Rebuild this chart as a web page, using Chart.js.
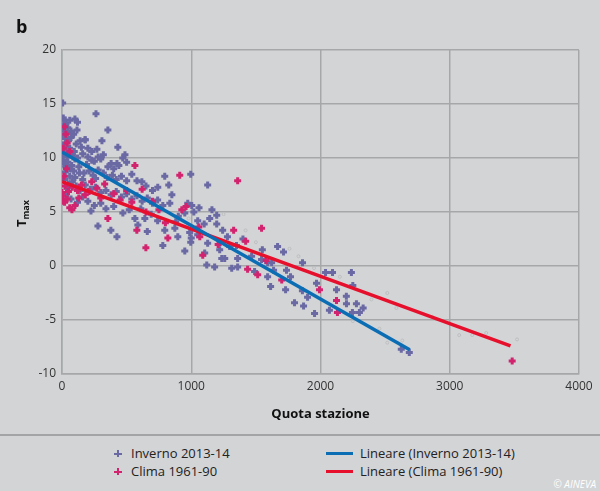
<!DOCTYPE html>
<html>
<head>
  <title>Tmax vs quota stazione</title>
  <script src="https://cdn.jsdelivr.net/npm/chart.js"></script>
  <style>
    body { margin: 0; background: #d3d4d6; font-family: "Open Sans", sans-serif; }
    #wrap { position: relative; width: 600px; height: 491px; background: #d3d4d6; overflow: hidden; }
    #chartBox { position: absolute; left: 0; top: 0; width: 600px; height: 434px; }
    #legend { position: absolute; left: 0; top: 434px; width: 600px; height: 57px; border-top: 2px solid #a3a4a6; }
    .item { position: absolute; font-size: 13px; color: #222; line-height: 16px; white-space: nowrap; }
    .plus { position: absolute; width: 7px; height: 7px; }
    .plus:before, .plus:after { content: ""; position: absolute; background: currentColor; }
    .plus:before { left: 3px; top: 0; width: 2px; height: 7px; }
    .plus:after { left: 0; top: 3px; width: 8px; height: 2px; }
    .bar { position: absolute; width: 27px; height: 3px; }
    #copy { position: absolute; right: 4px; top: 477px; font-size: 10px; font-style: italic; color: #fff; }
  </style>
</head>
<body>
<div id="wrap">
  <div id="chartBox"><canvas id="chartCanvas"></canvas></div>
  <div id="legend"></div>
  <div id="copy">© AINEVA</div>
</div>

<script>
  // quota (m), Tmax (°C)
  const inverno = [
    [5,15.1],[10,13.7],[20,13.5],[30,13.2],[5,12.9],[15,12.5],[40,12.3],[60,13.5],[100,13.6],[120,13.3],
    [8,12.0],[25,11.8],[50,11.6],[70,11.9],[90,12.2],[5,11.2],[30,11.0],[60,10.9],[110,11.3],[150,11.0],
    [180,11.7],[200,10.9],[230,10.6],[270,10.8],[280,10.1],[10,10.4],[40,10.1],[80,10.3],[120,10.0],[160,10.4],
    [200,10.1],[250,9.7],[300,9.9],[320,10.3],[355,9.2],[380,9.5],[400,9.0],[425,9.5],[440,9.3],[470,10.0],
    [487,10.3],[500,9.6],[355,12.6],[309,11.6],[432,11.0],[263,14.1],[178,11.7],[116,12.6],[15,9.5],[30,9.2],
    [60,9.0],[90,8.8],[130,9.2],[170,8.6],[210,8.8],[240,8.4],[280,8.9],[320,8.6],[350,8.2],[390,8.4],
    [420,8.0],[460,8.3],[500,7.9],[540,8.5],[580,7.9],[618,7.8],[650,7.4],[700,7.0],[741,7.3],[795,8.3],
    [826,7.5],[996,8.5],[20,8.0],[50,7.6],[80,7.8],[110,7.4],[140,7.0],[180,7.5],[220,7.1],[260,7.3],
    [300,6.8],[340,7.0],[380,6.6],[420,6.9],[460,6.4],[500,6.7],[540,6.2],[580,6.5],[620,6.0],[660,6.3],
    [700,5.8],[740,6.1],[780,5.6],[834,5.8],[973,5.8],[1004,5.6],[30,6.5],[70,6.2],[120,5.9],[160,6.4],
    [200,6.0],[250,5.6],[224,5.1],[300,5.8],[340,5.3],[400,5.5],[471,4.9],[520,5.2],[564,4.4],[587,3.8],
    [641,4.4],[690,4.8],[740,4.2],[795,3.3],[873,3.5],[896,2.7],[988,3.1],[278,3.7],[378,3.3],[425,2.7],
    [780,1.9],[950,1.4],[996,2.2],[900,4.6],[950,4.9],[1050,4.2],[1100,3.9],[1127,7.5],[1143,4.4],[1197,4.7],
    [1197,3.9],[1243,3.3],[1127,2.1],[1220,1.5],[1297,1.8],[1104,1.2],[1236,0.7],[1259,0.7],[1359,0.7],[1467,0.9],
    [1544,0.6],[1622,0.3],[1120,0.1],[1181,-0.1],[1313,-0.2],[1359,-0.1],[1591,-1.0],[1668,1.8],[1714,1.3],[1861,0.3],
    [2039,-0.6],[2093,-0.6],[2239,-0.6],[1969,-1.6],[2124,-2.2],[2201,-3.5],[2278,-3.5],[2301,-4.3],[2247,-4.3],[2069,-4.1],
    [1954,-4.4],[1869,-3.7],[1799,-3.4],[1900,-2.9],[1730,-2.2],[1614,-1.9],[1768,-1.0],[1737,-0.4],[1637,-0.4],[1591,0.3],
    [1400,2.5],[1350,1.9],[1050,2.9],[1000,2.6],[1280,2.7],[1550,1.5],[1490,-0.5],[2625,-7.7],[2687,-8.0],[2200,-2.8],
    [2330,-3.9],[2250,-1.8],[1860,-2.3],[1020,5.0],[1060,5.4],[1160,5.2],[850,6.6],[880,4.1],[660,3.2],[610,5.3],
    [15,13.0],[45,12.8],[70,12.5],[25,10.7],[55,10.4],[95,10.6],[140,11.6],[10,9.8],[45,9.6],[75,9.3],
    [100,9.9],[135,8.6],[25,8.7],[60,8.3],[100,8.2],[40,7.2],[160,8.0],[190,9.4],[230,9.8],[260,8.1]
  ];
  const clima = [
    [5,6.5],[10,6.0],[20,5.9],[40,6.2],[50,6.9],[77,5.2],[100,5.6],[30,12.2],[20,12.9],[40,11.4],
    [60,10.6],[80,7.3],[120,7.0],[150,7.5],[180,6.6],[230,7.8],[270,7.2],[300,6.3],[355,4.4],[400,6.7],
    [450,6.1],[500,7.0],[540,5.9],[564,9.3],[579,3.3],[620,7.1],[649,1.7],[700,6.0],[750,5.2],[819,2.6],
    [911,8.4],[927,5.2],[960,5.5],[1058,3.6],[1066,2.7],[1089,1.0],[1208,2.0],[1328,3.3],[1359,7.9],[1421,2.3],
    [1436,-0.3],[1514,-0.8],[1544,3.5],[1580,0.5],[1700,-1.3],[1992,-2.2],[2124,-3.2],[2131,-4.3],[3483,-8.8],[800,4.0],
    [650,5.0],[15,8.3],[35,9.0],[0,6.8],[25,7.4],[10,10.9],[60,5.4],[130,6.3],[210,6.9],[330,7.6]
  ];
  const faint = [
    [2517,-2.5],[3073,-6.4],[3174,-6.4],[3282,-6.2],[3521,-6.8],[2394,-3.1],[2587,-3.9],[2865,-4.7],[2456,-5.8],[2517,-7.1],
    [2633,-6.9],[1760,1.6],[1830,0.9],[1950,-0.2],[2150,-1.0],[1500,2.2],[1420,3.3],[1250,4.8],[980,4.4],[2250,-5.1]
  ];
  // linear trend endpoints
  const trendInverno = [[0,10.55],[2690,-7.75]];
  const trendClima = [[0,7.8],[3470,-7.4]];

  const names = ["Inverno 2013-14", "Clima 1961-90", "Lineare (Inverno 2013-14)", "Lineare (Clima 1961-90)"];
  const colors = ["#6a69a4", "#d2236f", "#0b6db4", "#e6102c"];

  const toXY = arr => arr.map(p => ({ x: p[0], y: p[1] }));
  const font = "'Open Sans', sans-serif";

  const extras = {
    id: "extras",
    afterDraw(chart) {
      const ctx = chart.ctx;
      ctx.save();
      ctx.fillStyle = "#111";
      ctx.font = "bold 18px " + font;
      ctx.textBaseline = "alphabetic";
      ctx.fillText("b", 16, 33);

      // y title T_max
      ctx.translate(26, 227);
      ctx.rotate(-Math.PI / 2);
      ctx.font = "bold 13px " + font;
      ctx.fillText("T", 0, 0);
      const w = ctx.measureText("T").width;
      ctx.font = "bold 9px " + font;
      ctx.fillText("max", w, 3);
      ctx.restore();

      ctx.save();
      ctx.fillStyle = "#111";
      ctx.font = "bold 13px " + font;
      ctx.textAlign = "center";
      ctx.textBaseline = "middle";
      const a = chart.chartArea;
      ctx.fillText("Quota stazione", (a.left + a.right) / 2, 414);
      ctx.restore();
    }
  };

  const grid = { color: "#a6a7a9", lineWidth: 1.5, drawTicks: false };

  new Chart(document.getElementById("chartCanvas").getContext("2d"), {
    type: "scatter",
    data: {
      datasets: [
        { label: names[2], data: toXY(trendInverno), showLine: true, borderColor: colors[2], borderWidth: 3.5, pointRadius: 0, order: 0 },
        { label: names[3], data: toXY(trendClima), showLine: true, borderColor: colors[3], borderWidth: 3.5, pointRadius: 0, order: 0 },
        { label: names[1], data: toXY(clima), pointStyle: "cross", pointRadius: 3.5, borderWidth: 3, borderColor: colors[1], order: 1 },
        { label: names[0], data: toXY(inverno), pointStyle: "cross", pointRadius: 3.5, borderWidth: 3, borderColor: colors[0], order: 2 },
        { label: "", data: toXY(faint), pointRadius: 1.5, borderWidth: 1, borderColor: "#bdbec0", backgroundColor: "rgba(0,0,0,0)", order: 3 }
      ]
    },
    options: {
      responsive: true,
      maintainAspectRatio: false,
      animation: false,
      layout: { padding: { left: 0, right: 21, top: 50, bottom: 0 } },
      plugins: { legend: { display: false }, tooltip: { enabled: false } },
      scales: {
        x: {
          type: "linear", min: 0, max: 4000,
          ticks: { stepSize: 1000, padding: 5, color: "#333", font: { family: font, size: 12 }, callback: v => String(v) },
          grid: grid,
          border: { color: "#a6a7a9", width: 1.5 },
          afterFit(s) { s.height = 60; }
        },
        y: {
          min: -10, max: 20,
          ticks: { stepSize: 5, padding: 6, color: "#333", font: { family: font, size: 12 }, callback: v => String(v) },
          grid: grid,
          border: { color: "#a6a7a9", width: 1.5 },
          afterFit(s) { s.width = 62; }
        }
      }
    },
    plugins: [extras]
  });

  // legend, two columns
  const legend = document.getElementById("legend");
  const slots = [
    { i: 0, x: 114, y: 17, kind: "plus" },
    { i: 1, x: 114, y: 35, kind: "plus" },
    { i: 2, x: 326, y: 17, kind: "bar" },
    { i: 3, x: 326, y: 35, kind: "bar" }
  ];
  slots.forEach(s => {
    const m = document.createElement("div");
    m.className = s.kind;
    m.style.left = s.x + "px";
    if (s.kind === "plus") { m.style.top = (s.y - 3) + "px"; m.style.color = colors[s.i]; }
    else { m.style.top = (s.y - 1) + "px"; m.style.background = colors[s.i]; }
    legend.appendChild(m);
    const t = document.createElement("div");
    t.className = "item";
    t.textContent = names[s.i];
    t.style.left = (s.kind === "plus" ? 131 : 360) + "px";
    t.style.top = (s.y - 8) + "px";
    legend.appendChild(t);
  });
</script>
</body>
</html>
